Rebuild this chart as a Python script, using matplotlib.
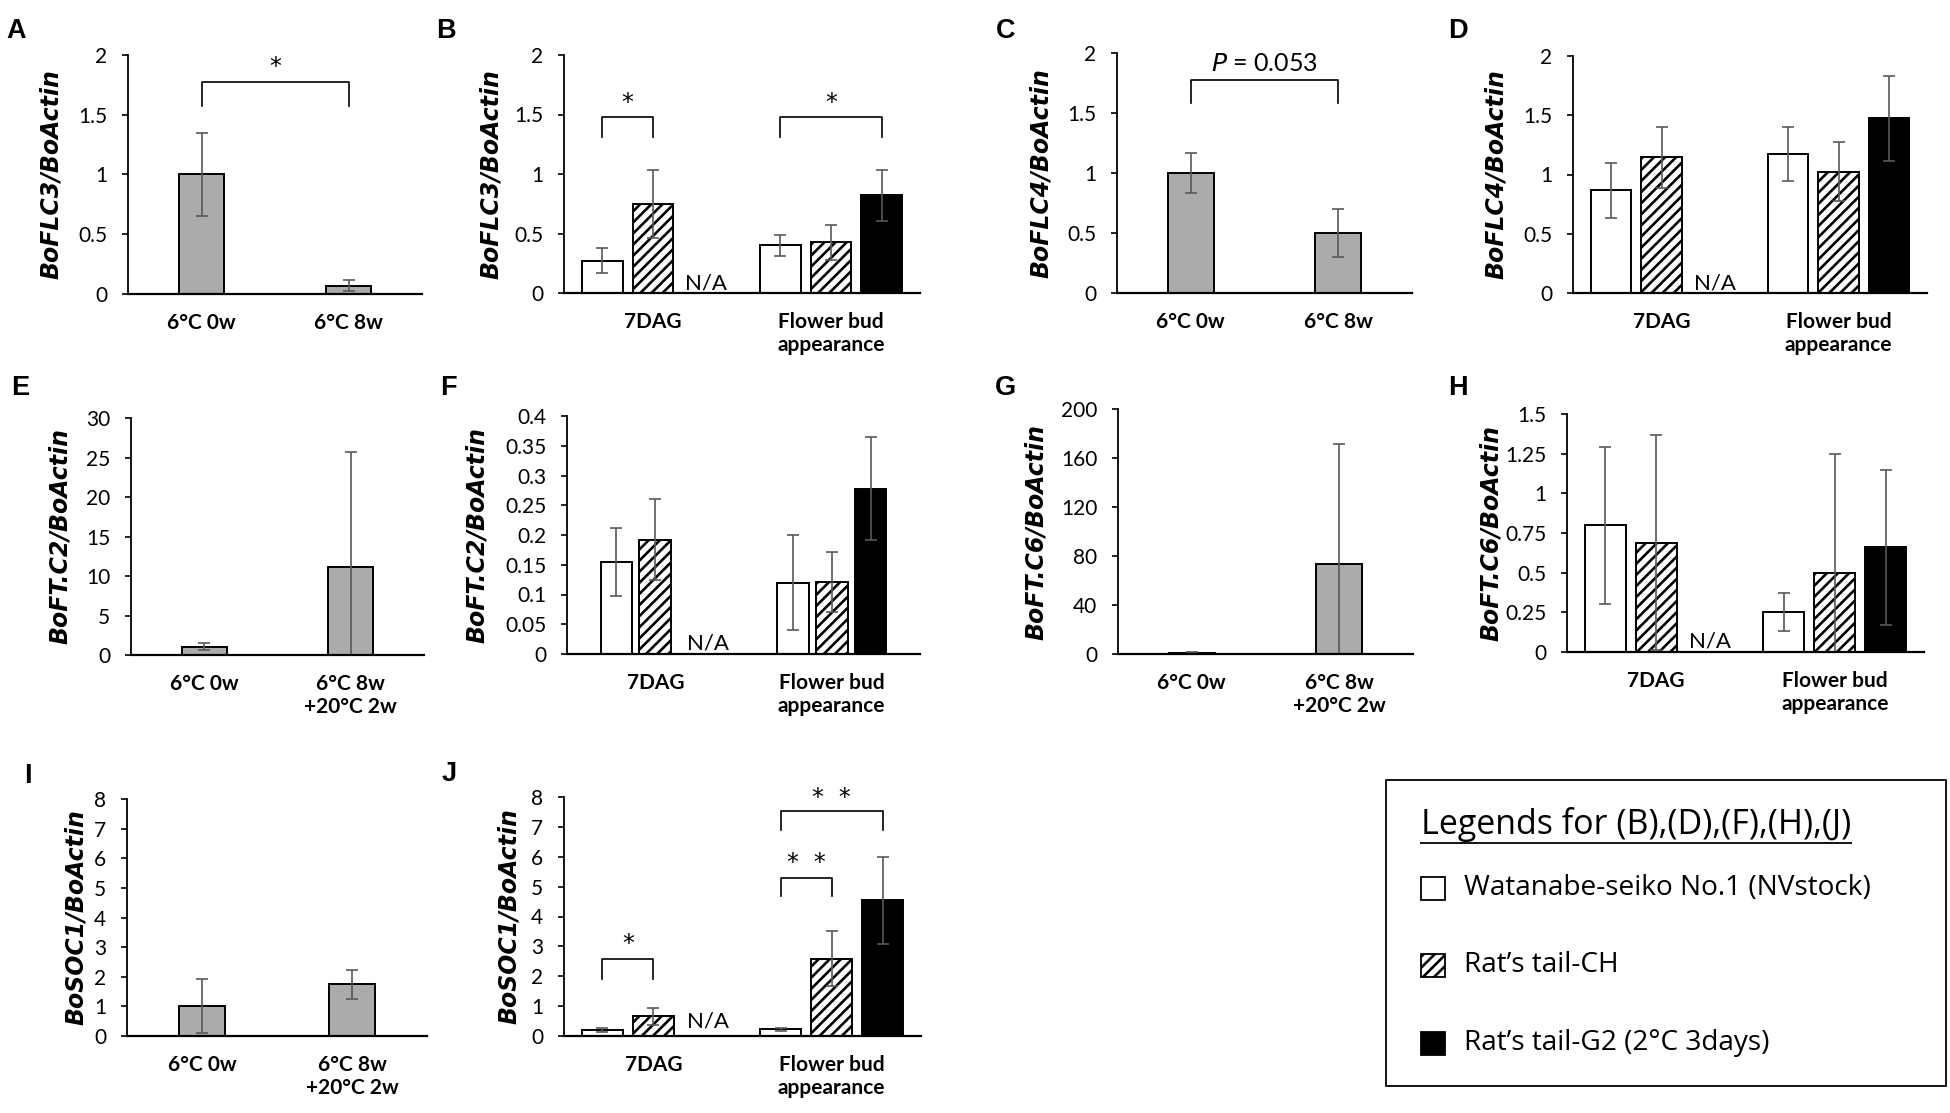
import numpy as np
import matplotlib.pyplot as plt
from matplotlib.patches import Rectangle
from matplotlib.ticker import MultipleLocator, FuncFormatter

W, H = 1950, 1113

plt.rcParams['font.family'] = ['Lato', 'DejaVu Sans']
plt.rcParams['hatch.linewidth'] = 1.9

# ---- data ----
cold_labels = ['6°C 0w', '6°C 8w']
warm_labels = ['6°C 0w', '6°C 8w\n+20°C 2w']
stage_labels = ['7DAG', 'Flower bud\nappearance']
cultivars = ['Watanabe-seiko No.1 (NVstock)', 'Rat’s tail-CH', 'Rat’s tail-G2 (2°C 3days)']

A_mean = [1.0, 0.07]
A_err = [0.35, 0.045]
C_mean = [1.0, 0.5]
C_err = [0.17, 0.2]
E_mean = [1.05, 11.2]
E_err = [0.42, 14.45]
G_mean = [1.0, 73.6]
G_err = [0.6, 98.0]
I_mean = [1.0, 1.74]
I_err = [0.91, 0.48]

# grouped panels: one list per cultivar, [7DAG, flower bud]; nan = not measured
B_nv, B_ch, B_g2 = [0.27, 0.40], [0.75, 0.425], [np.nan, 0.82]
B_nv_err, B_ch_err, B_g2_err = [0.105, 0.09], [0.285, 0.145], [np.nan, 0.215]
D_nv, D_ch, D_g2 = [0.865, 1.175], [1.145, 1.025], [np.nan, 1.475]
D_nv_err, D_ch_err, D_g2_err = [0.23, 0.23], [0.26, 0.25], [np.nan, 0.36]
F_nv, F_ch, F_g2 = [0.154, 0.120], [0.192, 0.121], [np.nan, 0.278]
F_nv_err, F_ch_err, F_g2_err = [0.057, 0.080], [0.068, 0.050], [np.nan, 0.086]
H_nv, H_ch, H_g2 = [0.80, 0.25], [0.69, 0.50], [np.nan, 0.66]
H_nv_err, H_ch_err, H_g2_err = [0.495, 0.12], [0.68, 0.75], [np.nan, 0.49]
J_nv, J_ch, J_g2 = [0.21, 0.23], [0.66, 2.59], [np.nan, 4.54]
J_nv_err, J_ch_err, J_g2_err = [0.06, 0.05], [0.29, 0.91], [np.nan, 1.45]

# significance marks: (bar a, bar b, bracket y, leg y, text, text y)
A_sig = [(0, 1, 1.77, 1.57, '*', 1.96)]
C_sig = [(0, 1, 1.773, 1.58, r'$\mathit{P}$ = 0.053', 1.91)]
B_sig = [((0, 0), (0, 1), 1.477, 1.315, '*', 1.66),
         ((1, 0), (1, 2), 1.477, 1.315, '*', 1.66)]
J_sig = [((0, 0), (0, 1), 2.58, 1.92, '*', 3.31),
         ((1, 0), (1, 1), 5.30, 4.68, '*  *', 6.05),
         ((1, 0), (1, 2), 7.52, 6.88, '*  *', 8.22)]

fig = plt.figure(figsize=(W / 100, H / 100), dpi=100)
over = fig.add_axes([0, 0, 1, 1], zorder=10)
over.set_xlim(0, W)
over.set_ylim(H, 0)
over.axis('off')
over.patch.set_alpha(0)

EC = '#595959'
GRAY = '#ababab'
styles = [dict(color='white', hatch=None), dict(color='white', hatch='///'),
          dict(color='black', hatch=None)]


def make_axes(l, t, r, b, ymax, step, cats, ylabel, lab_x, letter, let_xy):
    ax = fig.add_axes([l / W, 1 - b / H, (r - l) / W, (b - t) / H])
    ax.set_xlim(-0.5, 1.5)
    ax.set_ylim(0, ymax)
    ax.yaxis.set_major_locator(MultipleLocator(step))
    ax.yaxis.set_major_formatter(FuncFormatter(lambda v, p: f'{v:g}'))
    for s in ['top', 'right']:
        ax.spines[s].set_visible(False)
    ax.spines['left'].set_linewidth(1.3)
    ax.spines['bottom'].set_linewidth(1.6)
    ax.spines['bottom'].set_zorder(4)
    ax.tick_params(axis='y', direction='out', length=4.5, width=1.2,
                   labelsize=15, pad=10.5)
    ax.set_xticks([0, 1])
    ax.set_xticklabels(cats, fontweight='bold', fontsize=15, linespacing=1.15)
    ax.tick_params(axis='x', length=0, pad=14)
    ax.patch.set_alpha(0)
    over.text(lab_x, (t + b) / 2, ylabel, rotation=90, ha='center', va='center',
              fontsize=17, fontweight='bold', fontstyle='italic',
              family='DejaVu Sans')
    over.text(let_xy[0], let_xy[1], letter, ha='left', va='top', fontsize=19.5,
              fontweight='bold', family='Liberation Sans')
    return ax


def bracket(ax, xa, xb, yb, yl, txt, ty):
    ax.plot([xa, xa, xb, xb], [yl, yb, yb, yl], color='black', lw=1.2,
            clip_on=False, zorder=5)
    if '*' in txt:
        # asterisks sit high in the glyph box, so pull them down to centre
        ax.annotate(txt, ((xa + xb) / 2, ty), xytext=(0, -5.3),
                    textcoords='offset points', ha='center', va='center',
                    fontsize=17, family='DejaVu Sans', annotation_clip=False)
    else:
        ax.text((xa + xb) / 2, ty, txt, ha='center', va='center', fontsize=18,
                clip_on=False)


def simple_panel(ax, mean, err, sig=()):
    x = np.arange(len(mean))
    ax.bar(x, mean, width=0.31, color=GRAY, edgecolor='black', linewidth=1.4,
           zorder=2)
    ax.errorbar(x, mean, yerr=err, fmt='none', ecolor=EC, elinewidth=1.2,
                capsize=4.3, capthick=1.2, zorder=3)
    for a, b, yb, yl, txt, ty in sig:
        bracket(ax, a, b, yb, yl, txt, ty)


def grouped_panel(ax, series, errs, width, offset, na_y=None, sig=()):
    x = np.arange(2)
    for k, (vals, ev) in enumerate(zip(series, errs)):
        vals = np.array(vals, dtype=float)
        ev = np.array(ev, dtype=float)
        ok = ~np.isnan(vals)
        xs = x[ok] + (k - 1) * offset
        ax.bar(xs, vals[ok], width=width, color=styles[k]['color'],
               hatch=styles[k]['hatch'], edgecolor='black', linewidth=1.4,
               zorder=2)
        ax.errorbar(xs, vals[ok], yerr=ev[ok], fmt='none', ecolor=EC,
                    elinewidth=1.2, capsize=4.3, capthick=1.2, zorder=3)
    if na_y is None:
        ax.text(0.3, 0, 'N/A', ha='center', va='bottom', fontsize=16)
    else:
        ax.text(0.305, na_y, 'N/A', ha='center', va='center', fontsize=16)
    for (ga, sa), (gb, sb), yb, yl, txt, ty in sig:
        bracket(ax, ga + (sa - 1) * offset, gb + (sb - 1) * offset, yb, yl, txt, ty)


# row 1
ax = make_axes(128, 55, 422, 294, 2, 0.5, cold_labels, 'BoFLC3/BoActin', 51, 'A', (6, 18))
simple_panel(ax, A_mean, A_err, A_sig)

ax = make_axes(564, 55, 920, 293, 2, 0.5, stage_labels, 'BoFLC3/BoActin', 491, 'B', (436, 18))
grouped_panel(ax, [B_nv, B_ch, B_g2], [B_nv_err, B_ch_err, B_g2_err], 0.23, 0.285, sig=B_sig)

ax = make_axes(1117, 53, 1412, 293, 2, 0.5, cold_labels, 'BoFLC4/BoActin', 1041, 'C', (996, 18))
simple_panel(ax, C_mean, C_err, C_sig)

ax = make_axes(1573, 56, 1927, 293, 2, 0.5, stage_labels, 'BoFLC4/BoActin', 1496, 'D', (1448, 18))
grouped_panel(ax, [D_nv, D_ch, D_g2], [D_nv_err, D_ch_err, D_g2_err], 0.23, 0.285)

# row 2
ax = make_axes(131, 418, 424, 655, 30, 5, warm_labels, 'BoFT.C2/BoActin', 60, 'E', (11, 375))
simple_panel(ax, E_mean, E_err)

ax = make_axes(567, 416, 920, 654, 0.4, 0.05, stage_labels, 'BoFT.C2/BoActin', 477, 'F', (440, 375))
grouped_panel(ax, [F_nv, F_ch, F_g2], [F_nv_err, F_ch_err, F_g2_err], 0.18, 0.22)

ax = make_axes(1118, 409, 1413, 654, 200, 40, warm_labels, 'BoFT.C6/BoActin', 1036, 'G', (995, 375))
simple_panel(ax, G_mean, G_err)

ax = make_axes(1567, 414, 1924, 652, 1.5, 0.25, stage_labels, 'BoFT.C6/BoActin', 1491, 'H', (1448, 375))
grouped_panel(ax, [H_nv, H_ch, H_g2], [H_nv_err, H_ch_err, H_g2_err], 0.23, 0.285)

# row 3
ax = make_axes(127, 799, 427, 1036, 8, 1, warm_labels, 'BoSOC1/BoActin', 76, 'I', (24, 763))
simple_panel(ax, I_mean, I_err)

ax = make_axes(564, 797, 921, 1036, 8, 1, stage_labels, 'BoSOC1/BoActin', 509, 'J', (442, 761))
grouped_panel(ax, [J_nv, J_ch, J_g2], [J_nv_err, J_ch_err, J_g2_err], 0.23, 0.285,
              na_y=0.5, sig=J_sig)

# legend box
over.add_patch(Rectangle((1386, 780), 560, 306, fill=False, edgecolor='black',
                         linewidth=1.3))
title = over.text(1421, 825, 'Legends for (B),(D),(F),(H),(J)', ha='left',
                  va='center', fontsize=24.5, family='Open Sans')
row_y = [888, 965, 1043]
for k, name in enumerate(cultivars):
    over.add_patch(Rectangle((1421, row_y[k] - 11.5), 24, 23,
                             facecolor=styles[k]['color'], hatch=styles[k]['hatch'],
                             edgecolor='black', linewidth=1.3))
    over.text(1464, row_y[k], name, ha='left', va='center', fontsize=20.2,
              family='Open Sans')

fig.canvas.draw()
bb = title.get_window_extent(fig.canvas.get_renderer())
x0, _ = over.transData.inverted().transform((bb.x0, bb.y0))
x1, _ = over.transData.inverted().transform((bb.x1, bb.y0))
over.plot([x0, x1], [843, 843], color='black', lw=1.3)

fig.savefig('out.png', dpi=100)
